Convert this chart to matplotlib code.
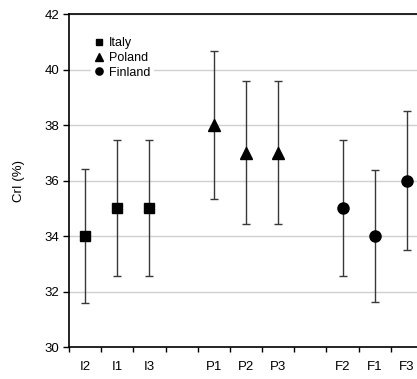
import numpy as np
import matplotlib.pyplot as plt

plt.rcParams['font.family'] = ['Liberation Sans', 'DejaVu Sans']

# category slots along x (blank slots separate the countries)
slots = ['I2', 'I1', 'I3', '', 'P1', 'P2', 'P3', '', 'F2', 'F1', 'F3']

italy_lab = ['I2', 'I1', 'I3']
italy_val = [34, 35, 35]
italy_err = [2.4, 2.45, 2.45]

poland_lab = ['P1', 'P2', 'P3']
poland_val = [38, 37, 37]
poland_err = [2.65, 2.58, 2.58]

finland_lab = ['F2', 'F1', 'F3']
finland_val = [35, 34, 36]
finland_err = [2.45, 2.38, 2.5]

fig = plt.figure(figsize=(4.17, 3.79), dpi=100)
ax = fig.add_axes([69/417, 32/379, 354/417, 333/379])

groups = [(italy_lab, italy_val, italy_err, 's', 'Italy', 7.5),
          (poland_lab, poland_val, poland_err, '^', 'Poland', 8.5),
          (finland_lab, finland_val, finland_err, 'o', 'Finland', 8)]
for lab, val, err, mk, name, ms in groups:
    x = [slots.index(l) for l in lab]
    ax.errorbar(x, val, yerr=err, fmt='none', ecolor='#383838',
                elinewidth=1, capsize=3, capthick=1, zorder=2)
    ax.plot(x, val, mk, color='black', ms=ms, ls='none', label=name, zorder=3)

ax.set_xlim(-0.5, len(slots) - 0.5)
ax.set_ylim(30, 42)
ax.set_yticks(np.arange(30, 43, 2))
ax.yaxis.grid(True, color='#d0d0d0', linewidth=1)
ax.set_axisbelow(True)

ax.set_xticks(np.arange(-0.5, len(slots), 1))
ax.set_xticklabels([])
ax.set_xticks(range(len(slots)), minor=True)
ax.set_xticklabels(slots, minor=True)
ax.tick_params(axis='x', which='minor', length=0, pad=10, labelsize=9.5)
ax.tick_params(axis='x', which='major', direction='out', length=3.5, width=1)
ax.tick_params(axis='y', direction='out', length=4, width=1, labelsize=9.5, pad=3)

for s in ['top', 'left', 'bottom']:
    ax.spines[s].set_linewidth(1.2)
ax.spines['right'].set_visible(False)

ax.set_ylabel('CrI (%)', fontsize=9.5, labelpad=14)

leg = ax.legend(loc='upper left', bbox_to_anchor=(0.045, 0.96), frameon=True,
                fontsize=9, handlelength=0.6, handletextpad=0.5,
                borderpad=0.3, labelspacing=0.22, fancybox=False,
                markerscale=0.65)
leg.get_frame().set_edgecolor('none')
leg.get_frame().set_alpha(1)

fig.savefig('out.png', dpi=100)
